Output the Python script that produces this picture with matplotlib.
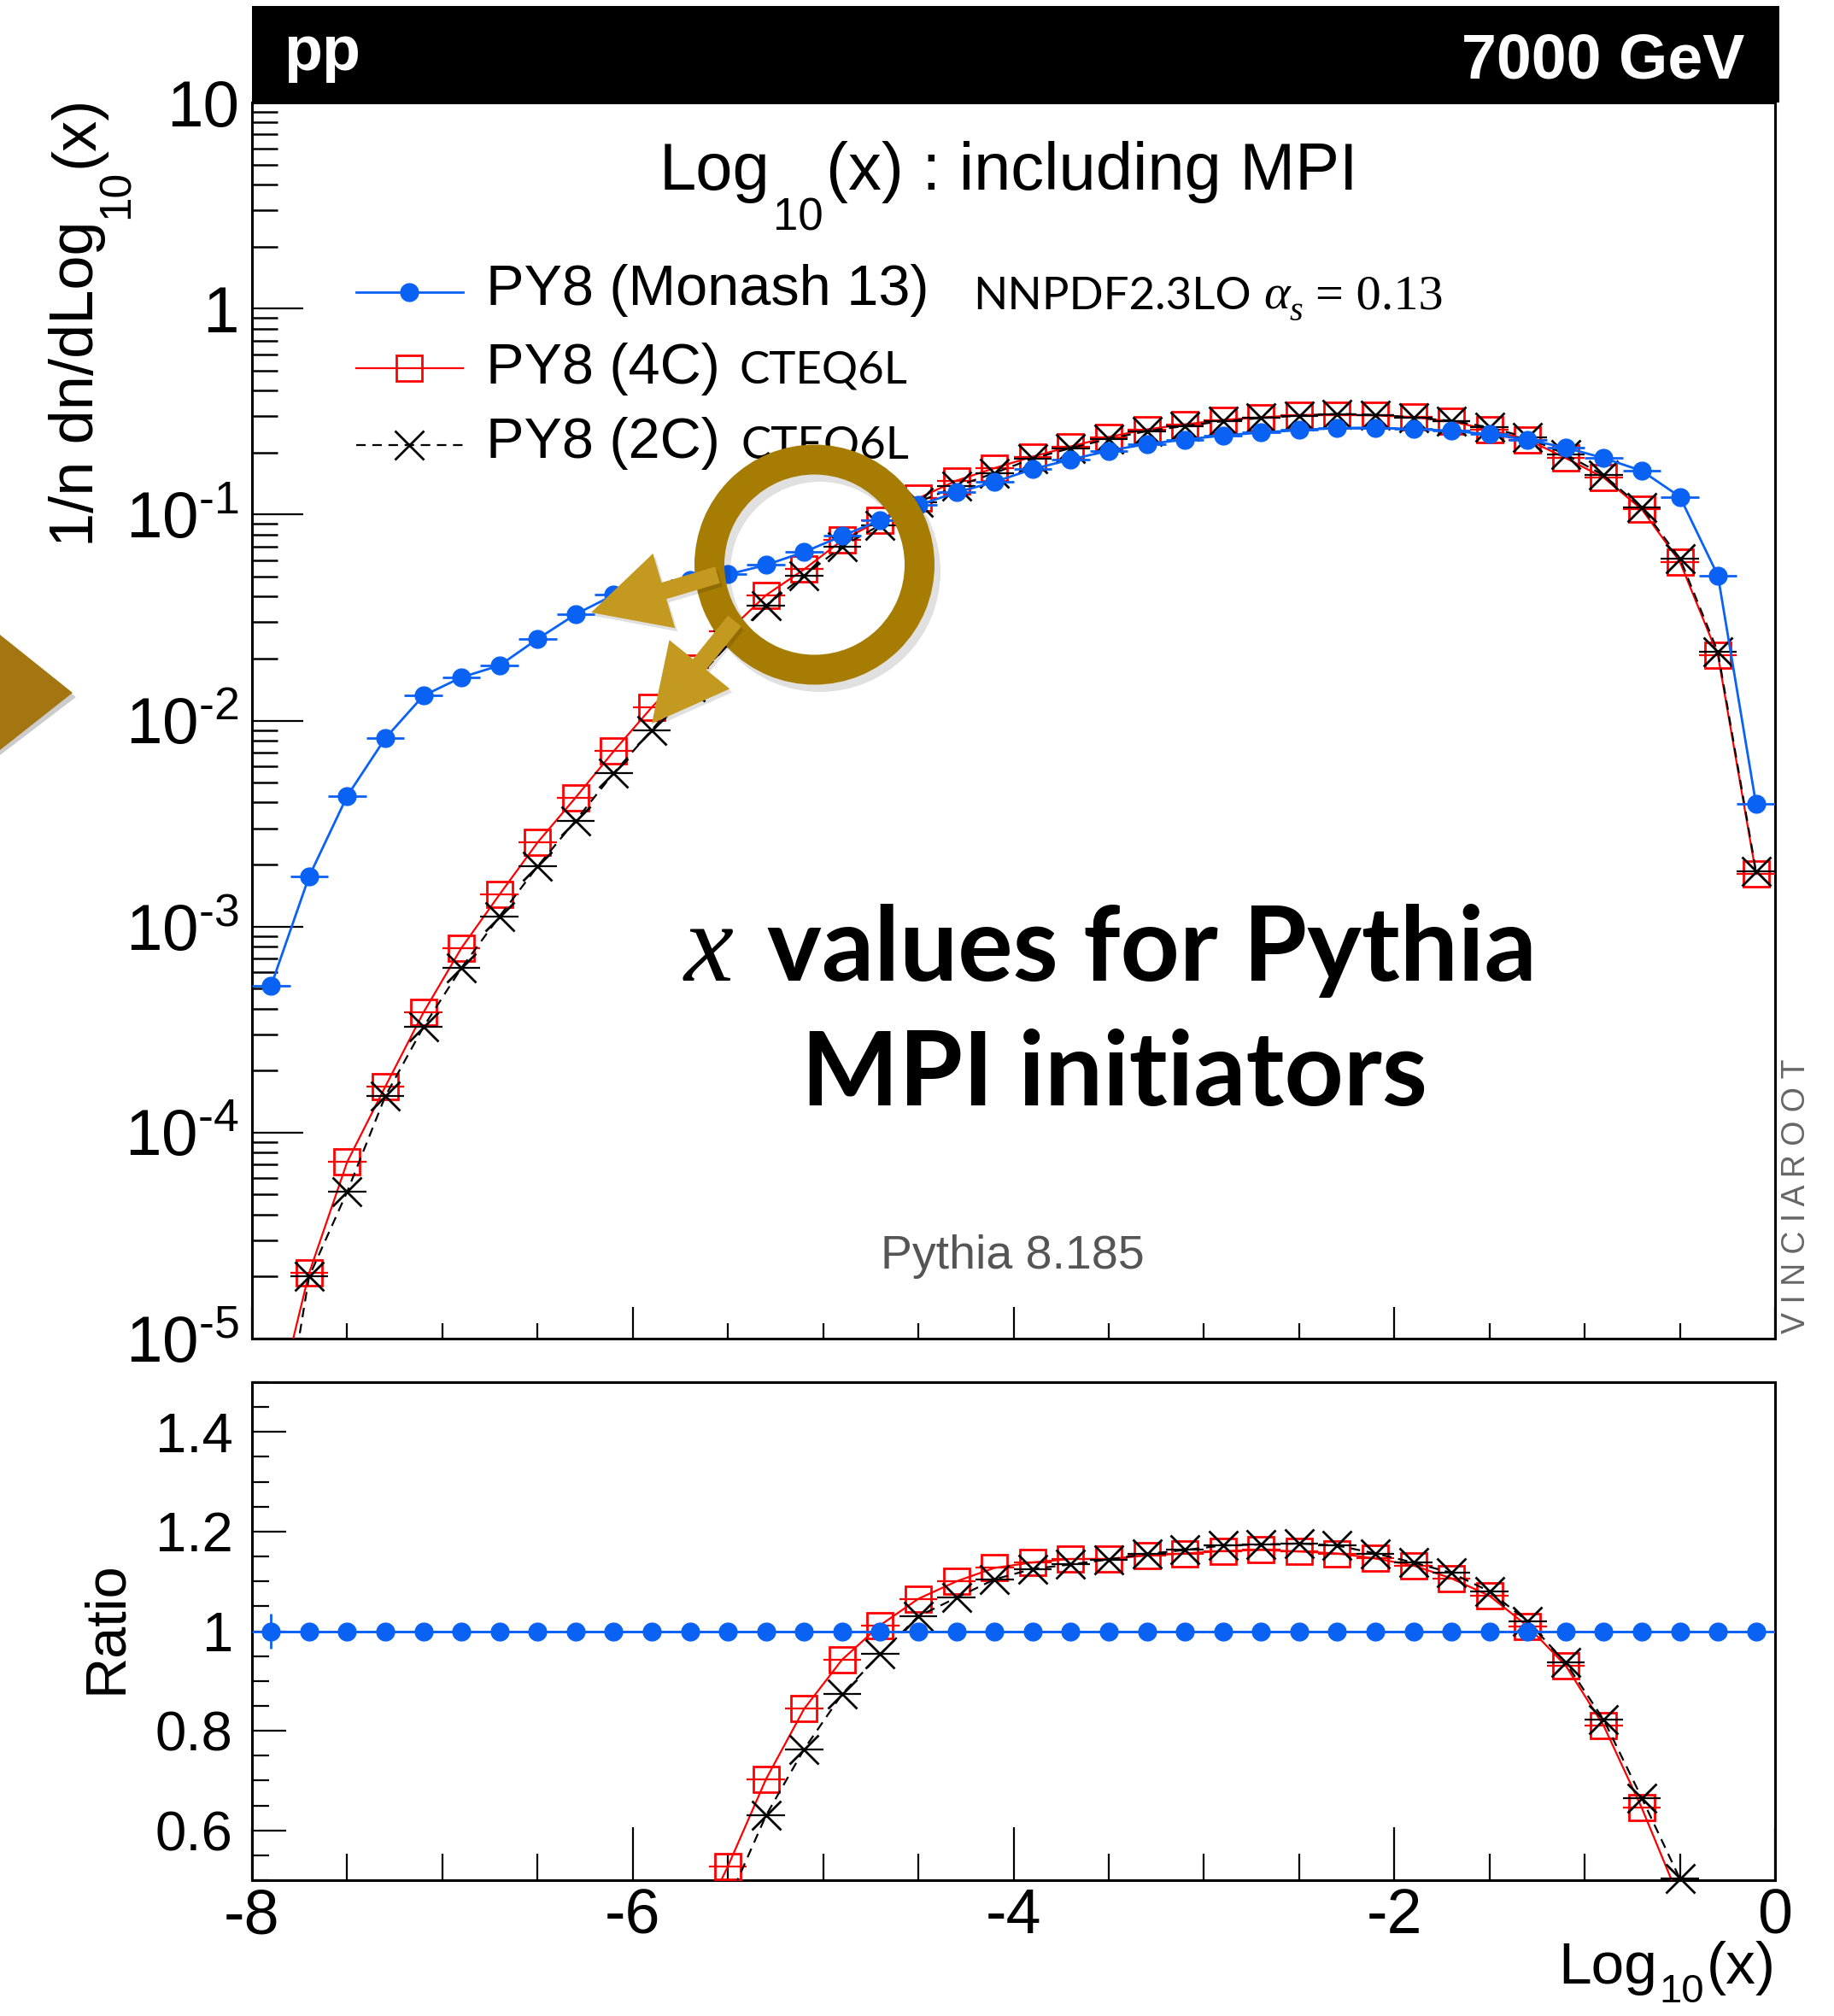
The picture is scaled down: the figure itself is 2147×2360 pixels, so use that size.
"""x values of the Pythia MPI initiators: Monash 13 vs 4C vs 2C, with ratio panel."""

import matplotlib

matplotlib.use("Agg")
import matplotlib.pyplot as plt
import matplotlib.transforms as mtransforms
import numpy as np
from matplotlib.lines import Line2D
from matplotlib.patches import Annulus, FancyArrow, Polygon, Rectangle
from matplotlib.ticker import FixedFormatter, FixedLocator, LogLocator, MultipleLocator

W, H, DPI = 2147, 2360, 100

plt.rcParams.update({
    "font.family": ["Liberation Sans", "DejaVu Sans"],
    "mathtext.fontset": "custom",
    "mathtext.rm": "Liberation Sans",
    "mathtext.it": "Liberation Sans:italic",
    "mathtext.bf": "Liberation Sans:bold",
    "mathtext.default": "regular",
    "axes.unicode_minus": False,
})

# ----------------------------------------------------------------------
# data
# ----------------------------------------------------------------------
log10x = [-7.9, -7.7, -7.5, -7.3, -7.1, -6.9, -6.7, -6.5, -6.3, -6.1,
          -5.9, -5.7, -5.5, -5.3, -5.1, -4.9, -4.7, -4.5, -4.3, -4.1,
          -3.9, -3.7, -3.5, -3.3, -3.1, -2.9, -2.7, -2.5, -2.3, -2.1,
          -1.9, -1.7, -1.5, -1.3, -1.1, -0.9, -0.7, -0.5, -0.3, -0.1]

monash = [5.15e-4, 1.75e-3, 4.3e-3, 8.2e-3, 1.32e-2, 1.62e-2, 1.85e-2, 2.49e-2, 3.28e-2, 4.07e-2,
          4.47e-2, 4.81e-2, 5.12e-2, 5.69e-2, 6.58e-2, 7.87e-2, 9.4e-2, 0.111, 0.128, 0.144,
          0.166, 0.185, 0.204, 0.220, 0.231, 0.242, 0.250, 0.257, 0.263, 0.264,
          0.260, 0.255, 0.245, 0.231, 0.211, 0.188, 0.163, 0.122, 0.0505, 3.93e-3]

tune_4c = [3.6e-6, 2.08e-5, 7.2e-5, 1.67e-4, 3.82e-4, 7.87e-4, 1.43e-3, 2.56e-3, 4.23e-3, 7.1e-3,
           1.16e-2, 1.8e-2, 2.7e-2, 4.06e-2, 5.42e-2, 7.5e-2, 9.4e-2, 0.12, 0.146, 0.168,
           0.191, 0.214, 0.238, 0.259, 0.274, 0.288, 0.296, 0.304, 0.305, 0.303,
           0.297, 0.283, 0.258, 0.231, 0.188, 0.151, 0.106, 0.059, 0.0207, 1.8e-3]

tune_2c = [1.5e-6, 2.0e-5, 5.16e-5, 1.5e-4, 3.25e-4, 6.3e-4, 1.12e-3, 1.96e-3, 3.27e-3, 5.56e-3,
           9.0e-3, 1.46e-2, 2.34e-2, 3.62e-2, 5.05e-2, 7.0e-2, 8.9e-2, 0.115, 0.137, 0.159,
           0.187, 0.210, 0.233, 0.254, 0.269, 0.284, 0.294, 0.302, 0.308, 0.305,
           0.296, 0.285, 0.265, 0.236, 0.196, 0.155, 0.108, 0.0613, 0.0215, 1.85e-3]

monash_ratio = [1.0, 1.0, 1.0, 1.0, 1.0, 1.0, 1.0, 1.0, 1.0, 1.0,
                1.0, 1.0, 1.0, 1.0, 1.0, 1.0, 1.0, 1.0, 1.0, 1.0,
                1.0, 1.0, 1.0, 1.0, 1.0, 1.0, 1.0, 1.0, 1.0, 1.0,
                1.0, 1.0, 1.0, 1.0, 1.0, 1.0, 1.0, 1.0, 1.0, 1.0]
monash_ratio_err = [0.035, 0.008, 0.005, 0.004, 0.003, 0.003, 0.003, 0.002, 0.002, 0.002,
                    0.0, 0.0, 0.0, 0.0, 0.0, 0.0, 0.0, 0.0, 0.0, 0.0,
                    0.0, 0.0, 0.0, 0.0, 0.0, 0.0, 0.0, 0.0, 0.0, 0.0,
                    0.0, 0.0, 0.0, 0.0, 0.0, 0.0, 0.0, 0.0, 0.0, 0.0]

ratio_x_4c = [-5.7, -5.5, -5.3, -5.1, -4.9, -4.7, -4.5, -4.3, -4.1, -3.9,
              -3.7, -3.5, -3.3, -3.1, -2.9, -2.7, -2.5, -2.3, -2.1, -1.9,
              -1.7, -1.5, -1.3, -1.1, -0.9, -0.7, -0.5, -0.3]
ratio_4c = [0.37, 0.528, 0.703, 0.844, 0.943, 1.012, 1.065, 1.100, 1.127, 1.138,
            1.145, 1.145, 1.152, 1.156, 1.161, 1.163, 1.160, 1.156, 1.146, 1.132,
            1.106, 1.071, 1.010, 0.931, 0.810, 0.645, 0.46, 0.41]

ratio_x_2c = [-5.5, -5.3, -5.1, -4.9, -4.7, -4.5, -4.3, -4.1, -3.9,
              -3.7, -3.5, -3.3, -3.1, -2.9, -2.7, -2.5, -2.3, -2.1, -1.9,
              -1.7, -1.5, -1.3, -1.1, -0.9, -0.7, -0.5, -0.3]
ratio_2c = [0.457, 0.630, 0.763, 0.874, 0.954, 1.030, 1.067, 1.104, 1.125,
            1.134, 1.144, 1.155, 1.163, 1.172, 1.174, 1.176, 1.172, 1.156, 1.138,
            1.117, 1.080, 1.020, 0.937, 0.822, 0.665, 0.503, 0.43]

decade_ticks = [1e-5, 1e-4, 1e-3, 1e-2, 1e-1, 1, 10]
decade_labels = [r"$10^{\text{-}5}$", r"$10^{\text{-}4}$", r"$10^{\text{-}3}$",
                 r"$10^{\text{-}2}$", r"$10^{\text{-}1}$", "1", "10"]
ratio_ticks = [0.6, 0.8, 1.0, 1.2, 1.4]
ratio_labels = ["0.6", "0.8", "1", "1.2", "1.4"]

BIN_HALF = 0.1

# ----------------------------------------------------------------------
# styles
# ----------------------------------------------------------------------
BLUE, RED = "#0a62f5", "#ff0000"
STYLE_MONASH = dict(color=BLUE, marker="o", ms=15, mfc=BLUE, mew=1.0, lw=2.0, dashes=None, z=6)
STYLE_4C = dict(color=RED, marker="s", ms=22, mfc="none", mew=2.0, lw=1.6, dashes=None, z=4)
STYLE_2C = dict(color="black", marker="x", ms=25, mfc="none", mew=2.0, lw=1.6, dashes=(5, 3.5), z=5)

PX = mtransforms.IdentityTransform()

fig = plt.figure(figsize=(W / DPI, H / DPI), dpi=DPI)


def box(x0, y0, x1, y1):
    """Pixel box (top-left origin) -> figure-fraction rectangle."""
    return [x0 / W, 1 - y1 / H, (x1 - x0) / W, (y1 - y0) / H]


def draw_series(axis, x, y, style, lo, hi, yerr=None):
    x = np.asarray(x, float)
    y = np.asarray(y, float)
    axis.errorbar(x, y, xerr=BIN_HALF, yerr=yerr, fmt="none", ecolor=style["color"],
                  elinewidth=style["lw"], capsize=0, zorder=style["z"])
    line_kw = dict(color=style["color"], lw=style["lw"], zorder=style["z"])
    if style["dashes"]:
        line_kw.update(ls="--", dashes=style["dashes"])
    axis.plot(x, y, **line_kw)
    inside = (y >= lo) & (y <= hi)
    axis.plot(x[inside], y[inside], ls="none", marker=style["marker"], ms=style["ms"],
              mfc=style["mfc"], mec=style["color"], mew=style["mew"],
              clip_on=False, zorder=style["z"] + 0.5)


def put(x, y_top, s, **kw):
    kw.setdefault("ha", "left")
    kw.setdefault("va", "baseline")
    return fig.text(x, H - y_top, s, transform=PX, **kw)


def text_run(x, y_top, pieces, align="left", vertical=False):
    """Lay out (text, font kwargs, drop_px, gap_px) pieces end to end along a baseline."""
    renderer = fig.canvas.get_renderer()
    texts, sizes = [], []
    for s, kw, drop, gap in pieces:
        t = fig.text(0, 0, s, transform=PX, ha="left", va="baseline",
                     rotation=90 if vertical else 0, rotation_mode="anchor", **kw)
        bb = t.get_window_extent(renderer)
        texts.append(t)
        sizes.append(gap + (bb.height if vertical else bb.width))
    total = sum(sizes)
    pos = {"left": 0.0, "center": -total / 2, "right": -total}[align]
    for t, size, (s, kw, drop, gap) in zip(texts, sizes, pieces):
        pos += gap
        if vertical:
            t.set_position((x + drop, H - y_top + pos))
        else:
            t.set_position((x + pos, H - y_top - drop))
        pos += size - gap


# ----------------------------------------------------------------------
# top panel
# ----------------------------------------------------------------------
ax = fig.add_axes(box(295, 120, 2078, 1567))
ax.set_yscale("log")
ax.set_xlim(-8, 0)
ax.set_ylim(1e-5, 10)

draw_series(ax, log10x, tune_4c, STYLE_4C, 1e-5, 10)
draw_series(ax, log10x, tune_2c, STYLE_2C, 1e-5, 10)
draw_series(ax, log10x, monash, STYLE_MONASH, 1e-5, 10)

ax.yaxis.set_major_locator(FixedLocator(decade_ticks))
ax.yaxis.set_major_formatter(FixedFormatter(decade_labels))
ax.yaxis.set_minor_locator(LogLocator(base=10, subs=np.arange(2, 10) * 1.0, numticks=20))
ax.xaxis.set_major_locator(MultipleLocator(2))
ax.xaxis.set_minor_locator(MultipleLocator(0.5))
ax.tick_params(axis="y", which="major", direction="in", length=43, width=1.6, labelsize=55,
               pad=11, left=True, right=False)
ax.tick_params(axis="y", which="minor", direction="in", length=21.6, width=1.8, left=True, right=False)
ax.tick_params(axis="x", which="major", direction="in", length=26.6, width=1.6,
               bottom=True, top=False, labelbottom=False)
ax.tick_params(axis="x", which="minor", direction="in", length=13, width=1.6, bottom=True, top=False)
for sp in ax.spines.values():
    sp.set_linewidth(2.2)

# ----------------------------------------------------------------------
# ratio panel
# ----------------------------------------------------------------------
axr = fig.add_axes(box(295, 1618, 2078, 2201))
axr.set_xlim(-8, 0)
axr.set_ylim(0.5, 1.5)

draw_series(axr, ratio_x_4c, ratio_4c, STYLE_4C, 0.5, 1.5)
draw_series(axr, ratio_x_2c, ratio_2c, STYLE_2C, 0.5, 1.5)
draw_series(axr, log10x, monash_ratio, STYLE_MONASH, 0.5, 1.5, yerr=monash_ratio_err)

axr.yaxis.set_major_locator(FixedLocator(ratio_ticks))
axr.yaxis.set_major_formatter(FixedFormatter(ratio_labels))
axr.yaxis.set_minor_locator(MultipleLocator(0.05))
axr.xaxis.set_major_locator(MultipleLocator(2))
axr.xaxis.set_minor_locator(MultipleLocator(0.5))
axr.tick_params(axis="y", which="major", direction="in", length=29, width=1.6, labelsize=47,
                pad=16, left=True, right=False)
axr.tick_params(axis="y", which="minor", direction="in", length=14.4, width=1.6, left=True, right=False)
axr.tick_params(axis="x", which="major", direction="in", length=45, width=1.6, labelsize=53,
                pad=6, bottom=True, top=False)
axr.tick_params(axis="x", which="minor", direction="in", length=22, width=1.6, bottom=True, top=False)
for sp in axr.spines.values():
    sp.set_linewidth(2.2)

# ----------------------------------------------------------------------
# header band, titles, axis labels
# ----------------------------------------------------------------------
fig.add_artist(Rectangle((295, H - 120), 2083 - 295, 113, transform=PX,
                         facecolor="black", edgecolor="none", zorder=5))
put(332, 82, "pp", color="white", fontsize=53, fontweight="bold", zorder=6)
put(2042, 92, "7000 GeV", ha="right", color="white", fontsize=53, fontweight="bold", zorder=6)

text_run(772, 222, [("Log", dict(fontsize=56), 0, 0),
                    ("10", dict(fontsize=38), 48, 3),
                    ("(x) : including MPI", dict(fontsize=56), 0, 4)])

text_run(109, 640, [("1/n dn/dLog", dict(fontsize=52), 0, 0),
                    ("10", dict(fontsize=37), 42, 2),
                    ("(x)", dict(fontsize=52), 0, 3)], vertical=True)

text_run(142, 1905, [("Ratio", dict(fontsize=48), 0, 0)], align="center", vertical=True)

text_run(2079, 2322, [("Log", dict(fontsize=50), 0, 0),
                      ("10", dict(fontsize=34), 22, 2),
                      ("(x)", dict(fontsize=50), 0, 3)], align="right")

# legend
for style, y_row in ((STYLE_MONASH, 342), (STYLE_4C, 431), (STYLE_2C, 521)):
    kw = dict(color=style["color"], lw=style["lw"])
    if style["dashes"]:
        kw.update(ls="--", dashes=style["dashes"])
    fig.add_artist(Line2D([417, 542], [H - y_row, H - y_row], transform=PX, **kw))
    fig.add_artist(Line2D([479], [H - y_row], transform=PX, ls="none", marker=style["marker"],
                          ms=style["ms"], mfc=style["mfc"], mec=style["color"], mew=style["mew"]))
put(569, 357, "PY8 (Monash 13)", fontsize=48)
put(569, 449, "PY8 (4C)", fontsize=48)
put(569, 536, "PY8 (2C)", fontsize=48)
put(1139, 362, "NNPDF2.3LO", family="Lato", fontsize=38)
put(1479, 362, "α", family="Liberation Serif", style="italic", fontsize=42)
put(1509, 375, "s", family="Liberation Serif", style="italic", fontsize=29)
put(1540, 362, "= 0.13", family="Liberation Serif", fontsize=42)
put(866, 449, "CTEQ6L", family="Lato", fontsize=38)
put(867, 537, "CTEQ6L", family="Lato", fontsize=38)

# annotations inside the frame
text_run(1300, 1148, [("x", dict(family="Liberation Serif", style="italic", fontsize=94), 0, 0),
                      ("values for Pythia", dict(family="Lato", fontweight="bold", fontsize=87), 0, 40)],
         align="center")
text_run(1305, 1294, [("MPI initiators", dict(family="Lato", fontweight="bold", fontsize=87), 0, 0)],
         align="center")
put(1031, 1485, "Pythia 8.185", fontsize=40, color="#555555")
text_run(2113, 1561, [("V I N C I A R O O T", dict(fontsize=27, color="#666666"), 0, 0)], vertical=True)

# ----------------------------------------------------------------------
# gold highlight overlay (slide decoration)
# ----------------------------------------------------------------------
GOLD_RING, GOLD_ARROW, GOLD_TRI = "#a77c02", "#c4991f", "#a47612"
fig.add_artist(Annulus((960, H - 669), 141, 36, transform=PX, facecolor="black",
                       edgecolor="none", alpha=0.12, zorder=9))
fig.add_artist(Annulus((953.5, H - 661), 140.5, 35, transform=PX, facecolor=GOLD_RING,
                       edgecolor="none", zorder=10))
for (x0, y0, x1, y1) in ((840, 673, 692, 717), (860, 727, 763, 847)):
    fig.add_artist(FancyArrow(x0 + 3, H - y0 - 4, x1 - x0, y0 - y1, width=20, head_width=91,
                              head_length=89, length_includes_head=True, transform=PX,
                              facecolor="black", edgecolor="none", alpha=0.12, zorder=10.5))
    fig.add_artist(FancyArrow(x0, H - y0, x1 - x0, y0 - y1, width=20, head_width=91,
                              head_length=89, length_includes_head=True, transform=PX,
                              facecolor=GOLD_ARROW, edgecolor="none", zorder=11))
fig.add_artist(Polygon([(0, H - 747), (89, H - 816), (0, H - 884)], closed=True, transform=PX,
                       facecolor="black", edgecolor="none", alpha=0.2, zorder=9))
fig.add_artist(Polygon([(0, H - 743), (85, H - 811), (0, H - 878)], closed=True, transform=PX,
                       facecolor=GOLD_TRI, edgecolor="none", zorder=10))

fig.savefig("out.png", dpi=DPI)
